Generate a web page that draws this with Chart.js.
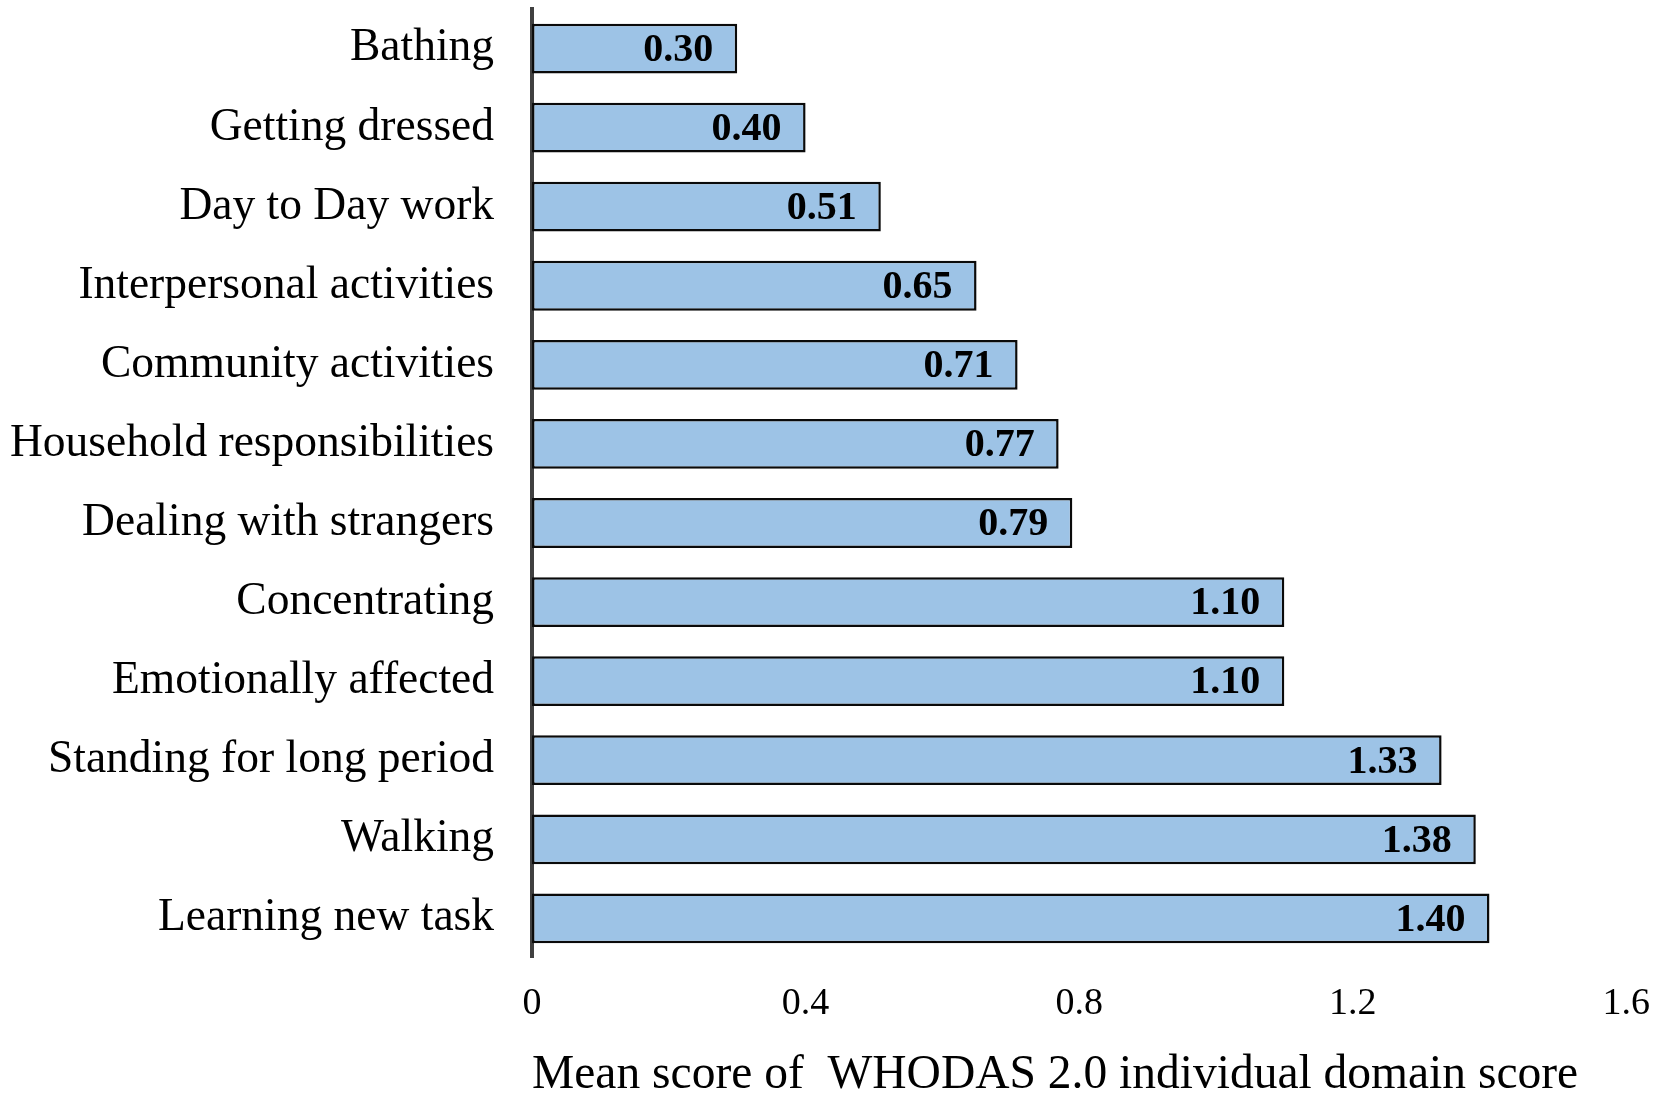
<!DOCTYPE html>
<html>
<head>
<meta charset="utf-8">
<script src="https://cdn.jsdelivr.net/npm/chart.js@4.4.1/dist/chart.umd.min.js"></script>
<style>
    html, body { margin: 0; padding: 0; background: #ffffff; }
    #wrap { width: 1665px; height: 1099px; }
</style>
</head>
<body>
<div id="wrap"><canvas id="chart"></canvas></div>
<script>
// 数据
var categories = [
    'Bathing',
    'Getting dressed',
    'Day to Day work',
    'Interpersonal activities',
    'Community activities',
    'Household responsibilities',
    'Dealing with strangers',
    'Concentrating',
    'Emotionally affected',
    'Standing for long period',
    'Walking',
    'Learning new task'
];
var meanScores = [0.30, 0.40, 0.51, 0.65, 0.71, 0.77, 0.79, 1.10, 1.10, 1.33, 1.38, 1.40];
var xTicks = [0, 0.4, 0.8, 1.2, 1.6];
var xTitle = 'Mean score of  WHODAS 2.0 individual domain score';

var serif = '"Liberation Serif", "Times New Roman", serif';

// 条内数值标签
var valueLabels = {
    id: 'valueLabels',
    afterDatasetsDraw: function (chart) {
        var ctx = chart.ctx;
        var meta = chart.getDatasetMeta(0);
        ctx.save();
        ctx.font = 'bold 40px ' + serif;
        ctx.fillStyle = '#000000';
        ctx.textAlign = 'right';
        ctx.textBaseline = 'middle';
        meta.data.forEach(function (bar, i) {
            ctx.fillText(meanScores[i].toFixed(2), bar.x - 24, bar.y + 2);
        });
        ctx.restore();
    }
};

var ctx = document.getElementById('chart').getContext('2d');
window.myChart = new Chart(ctx, {
    type: 'bar',
    data: {
        labels: categories,
        datasets: [{
            data: meanScores,
            backgroundColor: '#9dc3e6',
            borderColor: '#0a0a0a',
            borderWidth: 2.5,
            borderSkipped: false,
            barPercentage: 0.63,
            categoryPercentage: 1
        }]
    },
    options: {
        indexAxis: 'y',
        responsive: true,
        maintainAspectRatio: false,
        animation: false,
        layout: {
            padding: { left: 7, right: 5, top: 9, bottom: 0 }
        },
        plugins: {
            legend: { display: false },
            tooltip: { enabled: false }
        },
        scales: {
            x: {
                min: 0,
                max: 1.6,
                afterBuildTicks: function (axis) {
                    axis.ticks = xTicks.map(function (v) { return { value: v }; });
                },
                grid: { display: false },
                border: { display: false },
                ticks: {
                    font: { family: serif, size: 38 },
                    color: '#000000',
                    padding: 15
                },
                title: {
                    display: true,
                    text: xTitle,
                    align: 'start',
                    font: { family: serif, size: 47.5, lineHeight: 1 },
                    color: '#000000',
                    padding: { top: 10, bottom: 0 }
                }
            },
            y: {
                grid: { display: false },
                border: { display: true, color: '#404040', width: 4 },
                ticks: {
                    font: { family: serif, size: 45.5 },
                    color: '#000000',
                    padding: 30
                },
                // 去掉首末标签带来的上下留白，并收窄左侧
                afterFit: function (scale) {
                    scale.paddingTop = 0;
                    scale.paddingBottom = 0;
                    scale.width = scale.width - 27;
                }
            }
        }
    },
    plugins: [valueLabels]
});
</script>
</body>
</html>
